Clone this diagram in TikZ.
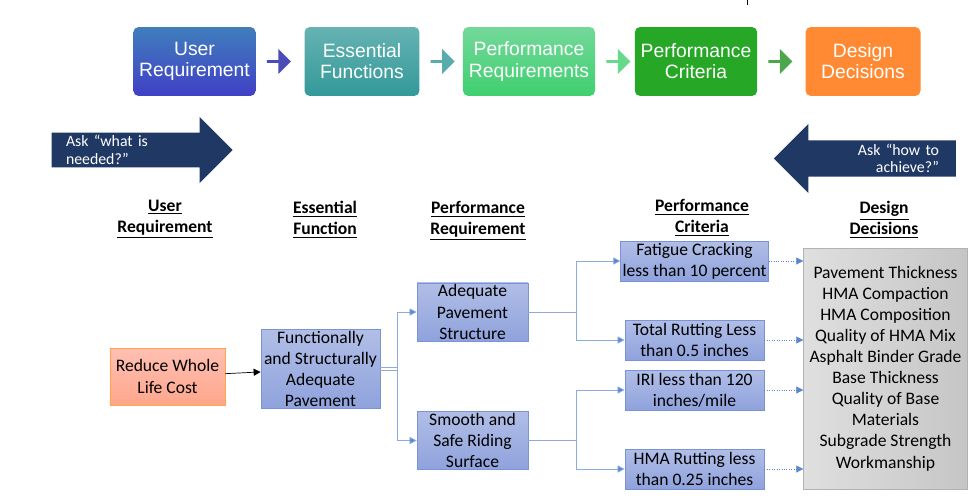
\documentclass[tikz,border=0pt]{standalone}
\usepackage{fontspec}
\setmainfont{Carlito}
\newfontfamily\headfont{Liberation Sans}
\usetikzlibrary{arrows.meta}
\usetikzlibrary{positioning}
\usetikzlibrary{shapes.arrows}
\definecolor{navyblue}{HTML}{203864}
\definecolor{boxblue}{HTML}{8FA2DC}
\definecolor{boxline}{HTML}{7A93D6}
\definecolor{linkblue}{HTML}{5B86D0}
\begin{document}
\begin{tikzpicture}[
				x=0.02cm, y=-0.02cm,
				stage/.style={rounded corners=3pt, minimum width=2.3cm, minimum height=1.38cm, text=white, font=\headfont\fontsize{11}{12}\selectfont, align=center},
				chev/.style={single arrow, minimum width=0.5cm, minimum height=0.48cm, single arrow head extend=0.06cm, inner sep=0pt},
				bigarrow/.style={single arrow, fill=navyblue, text=white, font=\fontsize{9}{10}\selectfont, inner sep=1pt, align=left},
				head/.style={font=\bfseries\fontsize{10}{12}\selectfont, align=center},
				box/.style={draw=boxline, top color=boxblue!70, bottom color=boxblue, align=center, font=\fontsize{10}{12}\selectfont, inner sep=1pt},
				link/.style={draw=linkblue!70, -{Triangle[length=4pt,width=4pt,fill=linkblue]}},
				dots/.style={draw=linkblue, densely dotted, -{Triangle[length=4pt,width=4pt]}},
			]
				\useasboundingbox (0,0) rectangle (973,500);
				\draw (747,0) -- (747,5);
				% top row of stages
				\node[stage, top color=blue!50!cyan!65!black!75!white, bottom color=blue!70!black!75!white] (user stage) at (194.5,61.5) {User\\Requirement};
				\node[stage, top color=teal!60!white, bottom color=teal!80!white] (function stage) at (362,61.5) {Essential\\Functions};
				\node[stage, top color=green!45!teal!55!white, bottom color=green!50!teal!75!white] (requirement stage) at (529,61.5) {Performance\\Requirements};
				\node[stage, fill=green!60!black!85!white] (criteria stage) at (696,61.5) {Performance\\Criteria};
				\node[stage, fill=orange!85!red!80!white] (decision stage) at (863,61.5) {Design\\Decisions};
				\node[chev, fill=blue!60!black!70!white, right=6pt of user stage] {};
				\node[chev, fill=teal!65!white, right=6pt of function stage] {};
				\node[chev, fill=green!50!teal!60!white, right=6pt of requirement stage] {};
				\node[chev, fill=green!50!black!70!white, right=6pt of criteria stage] {};
				% big arrows
				\node[bigarrow, minimum height=3.62cm, minimum width=1.32cm, single arrow head extend=0.3cm, text width=2.7cm] (ask need) at (133.5,150) {Ask “what is needed?”};
				\node[bigarrow, shape border rotate=180, minimum height=3.64cm, minimum width=1.38cm, single arrow head extend=0.3cm, text width=2.6cm, align=right] (ask how) at (874,158.5) {Ask “how to achieve?”};
				% column headings
				\node[head] at (165,219) {\underline{User}\\\underline{Requirement}};
				\node[head] at (325,219.5) {\underline{Essential}\\\underline{Function}};
				\node[head] at (478,221) {\underline{Performance}\\\underline{Requirement}};
				\node[head] at (702,218) {\underline{Performance}\\\underline{Criteria}};
				\node[head] at (884,220) {\underline{Design}\\\underline{Decisions}};
				% tree
				\node[draw=orange!70, top color=orange!35!red!30!white, bottom color=orange!45!red!45!white, font=\fontsize{10}{12}\selectfont, align=center, minimum width=2.18cm, minimum height=1.14cm] (reduce) at (167.5,376.5) {Reduce Whole\\Life Cost};
				\node[box, minimum width=2.38cm, minimum height=1.44cm] (functional) at (320.5,369) {Functionally\\and Structurally\\Adequate\\Pavement};
				\node[box, minimum width=2.22cm, minimum height=1.12cm] (adequate) at (472.5,312) {Adequate\\Pavement\\Structure};
				\node[box, minimum width=2.22cm, minimum height=1.1cm] (smooth) at (472.5,440.5) {Smooth and\\Safe Riding\\Surface};
				\node[box, minimum width=2.78cm, minimum height=0.8cm] (fatigue) at (694.5,261) {Fatigue Cracking\\less than 10 percent};
				\node[box, minimum width=2.78cm, minimum height=0.8cm] (total rutting) at (694.5,340) {Total Rutting Less\\than 0.5 inches};
				\node[box, minimum width=2.78cm, minimum height=0.8cm] (iri) at (694.5,390) {IRI less than 120\\inches/mile};
				\node[box, minimum width=2.78cm, minimum height=0.8cm] (hma rutting) at (694.5,469) {HMA Rutting less\\than 0.25 inches};
				\node[draw=gray!60, left color=gray!25, right color=gray!45, minimum width=3.18cm, minimum height=4.82cm, align=center, font=\fontsize{10}{12}\selectfont] (decisions) at (885.5,368.5) {Pavement Thickness\\HMA Compaction\\HMA Composition\\Quality of HMA Mix\\Asphalt Binder Grade\\Base Thickness\\Quality of Base\\Materials\\Subgrade Strength\\Workmanship};

				\draw[-{Triangle[length=4pt,width=4pt]}] (reduce) -- (functional);
				\draw[link] ([yshift=-1pt]functional.east) -- ++(17,0) |- (adequate.west);
				\draw[link] ([yshift=1pt]functional.east) -- ++(17,0) |- (smooth.west);
				\draw[link] (adequate.east) -- ++(48,0) |- (fatigue.west);
				\draw[link] (adequate.east) -- ++(48,0) |- (total rutting.west);
				\draw[link] (smooth.east) -- ++(48,0) |- (iri.west);
				\draw[link] (smooth.east) -- ++(48,0) |- (hma rutting.west);
				\foreach \crit in {fatigue, total rutting, iri, hma rutting}
					\draw[dots] (\crit.east) -- (\crit.east -| decisions.west);
			\end{tikzpicture}
\end{document}
